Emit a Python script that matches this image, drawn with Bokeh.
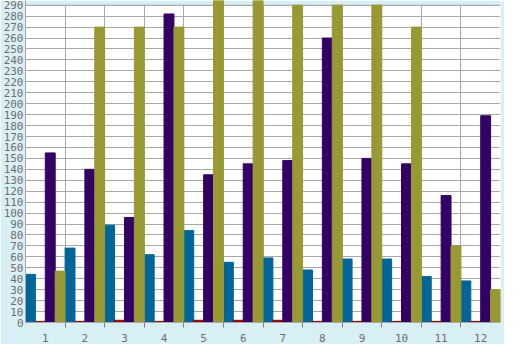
from bokeh.plotting import figure
from bokeh.models import ColumnDataSource, Range1d, FixedTicker, SingleIntervalTicker, BoxAnnotation, Span
from bokeh.transform import dodge
from bokeh.embed import file_html
from bokeh.resources import INLINE

categories = [1, 2, 3, 4, 5, 6, 7, 8, 9, 10, 11, 12]
blue = [44, 68, 89, 62, 84, 55, 59, 48, 58, 58, 42, 38]
red = [1, 1, 2, 1, 2, 2, 2, 1, 1, 1, 1, 1]
purple = [155, 140, 96, 282, 135, 145, 148, 260, 150, 145, 116, 189]
olive = [47, 270, 270, 270, 300, 300, 290, 290, 290, 270, 70, 30]
y_max = 290

BG = "#d9eff6"
GRID = "#a8a8a8"
TXT = "#6e6e6e"

src = ColumnDataSource(dict(x=categories, blue=blue, red=red, purple=purple, olive=olive))

p = figure(width=504, height=344, output_backend="svg", toolbar_location=None,
           x_range=Range1d(0.5, 12.5), y_range=Range1d(0, y_max * 1.0149),
           min_border_left=24, min_border_right=4, min_border_top=0, min_border_bottom=20)
p.background_fill_color = "white"
p.border_fill_color = BG
p.outline_line_color = None

# grids
p.ygrid.ticker = SingleIntervalTicker(interval=10, num_minor_ticks=0)
p.ygrid.grid_line_color = GRID
p.xgrid.ticker = FixedTicker(ticks=[c + 0.5 for c in [0] + categories])
p.xgrid.grid_line_color = GRID

# cover band above max
p.add_layout(BoxAnnotation(bottom=y_max, fill_color=BG, fill_alpha=1, line_alpha=0, level="underlay"))
p.add_layout(Span(location=y_max, dimension="width", line_color=GRID, line_width=1, level="underlay"))

w = 0.25
p.vbar(x=dodge("x", -0.375, range=p.x_range), top="blue", width=w, source=src, color="#006699")
p.vbar(x=dodge("x", -0.125, range=p.x_range), top="red", width=w, source=src, color="#990000")
p.vbar(x=dodge("x", 0.125, range=p.x_range), top="purple", width=w, source=src, color="#330066")
p.vbar(x=dodge("x", 0.375, range=p.x_range), top="olive", width=w, source=src, color="#999933")

# axes
p.yaxis.ticker = SingleIntervalTicker(interval=10, num_minor_ticks=0)
p.yaxis.major_tick_out = 0
p.yaxis.major_tick_in = 0
p.yaxis.minor_tick_out = 0
p.yaxis.axis_line_color = GRID
p.yaxis.major_label_standoff = 2
p.yaxis.major_label_text_font = "DejaVu Sans Mono"
p.yaxis.major_label_text_font_size = "11px"
p.yaxis.major_label_text_color = TXT

p.xaxis.ticker = FixedTicker(ticks=categories, minor_ticks=[c + 0.5 for c in categories[:-1]])
p.xaxis.major_tick_out = 0
p.xaxis.major_tick_in = 0
p.xaxis.minor_tick_out = 5
p.xaxis.minor_tick_in = 0
p.xaxis.minor_tick_line_color = "#808080"
p.xaxis.axis_line_color = GRID
p.xaxis.major_label_standoff = 6
p.xaxis.major_label_text_font = "DejaVu Sans Mono"
p.xaxis.major_label_text_font_size = "11px"
p.xaxis.major_label_text_color = TXT

open("out.html", "w").write(file_html(p, INLINE))
